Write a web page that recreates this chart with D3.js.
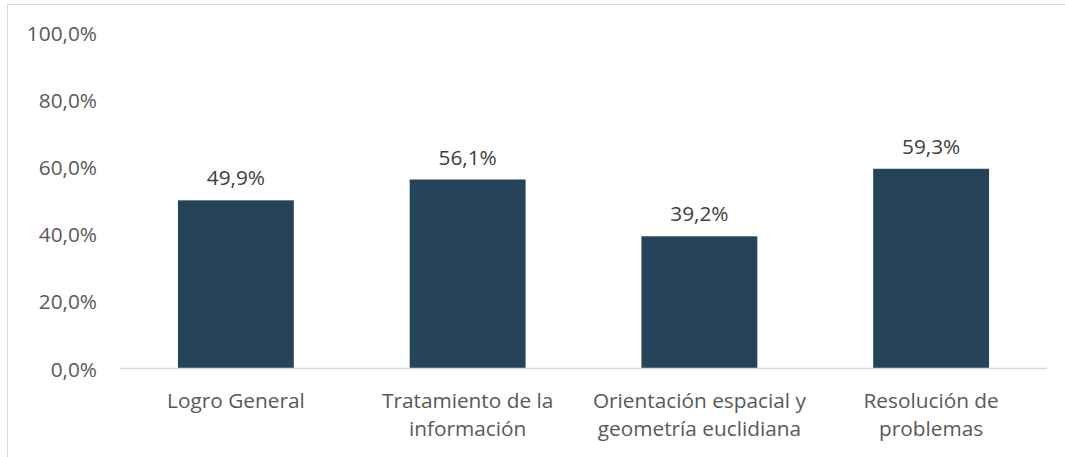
<!DOCTYPE html>
<html><head><meta charset="utf-8">
<script src="https://cdn.jsdelivr.net/npm/d3@7"></script>
<style>body{margin:0;background:#fff}svg{display:block}text{font-family:"Open Sans",sans-serif}</style>
</head><body><svg id="c" width="1065" height="457"></svg>
<script>
const categories = [["Logro General"], ["Tratamiento de la","información"], ["Orientación espacial y","geometría euclidiana"], ["Resolución de","problemas"]];
const values = [49.9, 56.1, 39.2, 59.3];
const yTicks = [0, 20, 40, 60, 80, 100];

const svg = d3.select("#c");
svg.append("rect").attr("x",7.5).attr("y",4.5).attr("width",1070).attr("height",470)
  .attr("fill","none").attr("stroke","#d9d9d9");

const x = d3.scaleBand().domain(d3.range(values.length)).range([120,1047]).paddingInner(0.5).paddingOuter(0.25);
const y = d3.scaleLinear().domain([0,100]).range([368,32]);
const fmt = v => d3.format(".1f")(v).replace(".", ",") + "%";

const ya = svg.append("g").attr("transform","translate(97,0)")
  .call(d3.axisLeft(y).tickValues(yTicks).tickSize(0).tickPadding(0).tickFormat(fmt));
ya.select(".domain").remove();
ya.selectAll("text").attr("fill","#595959").attr("dy",null).attr("dominant-baseline","central")
  .style("font-size","20.8px").style("font-family","'Open Sans',sans-serif");

svg.append("g").selectAll("rect").data(values).join("rect")
  .attr("x",(d,i)=>x(i)).attr("width",x.bandwidth())
  .attr("y",d=>y(d)).attr("height",d=>y(0)-y(d)).attr("fill","#264459");

svg.append("line").attr("x1",120).attr("x2",1047).attr("y1",y(0)+0.5).attr("y2",y(0)+0.5)
  .attr("stroke","#d9d9d9").attr("stroke-width",1.5);

svg.append("g").selectAll("text").data(values).join("text")
  .attr("x",(d,i)=>x(i)+x.bandwidth()/2).attr("y",d=>y(d)-23).attr("dominant-baseline","central")
  .attr("text-anchor","middle").attr("fill","#404040").style("font-size","20.8px").text(fmt);

const xl = svg.append("g").selectAll("text").data(categories).join("text")
  .attr("text-anchor","middle").attr("fill","#595959").style("font-size","20.8px")
  .attr("transform",(d,i)=>`translate(${x(i)+x.bandwidth()/2},400)`);
xl.selectAll("tspan").data(d=>d).join("tspan").attr("x",0).attr("y",(d,j)=>j*28)
  .attr("dominant-baseline","central").text(d=>d);
</script></body></html>
